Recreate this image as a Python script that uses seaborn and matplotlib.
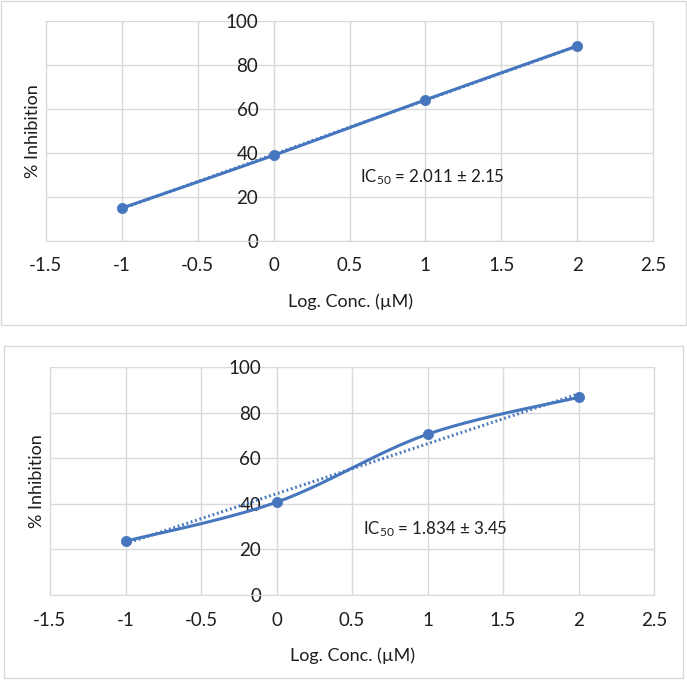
import numpy as np
import pandas as pd
import seaborn as sns
import matplotlib
matplotlib.use("Agg")
import matplotlib.pyplot as plt
from matplotlib.patches import Rectangle

# data
log_conc = [-1, 0, 1, 2]
inhib_top = [14.8, 38.8, 64.0, 88.5]
inhib_bottom = [23.6, 40.7, 70.5, 86.7]
ic50_top = "IC$_{\\mathrm{50}}$ = 2.011 ± 2.15"
ic50_bottom = "IC$_{\\mathrm{50}}$ = 1.834 ± 3.45"
x_ticks = [-1.5, -1, -0.5, 0, 0.5, 1, 1.5, 2, 2.5]
y_ticks = [0, 20, 40, 60, 80, 100]

BLUE = "#4677BE"
GRID = "#D9D9D9"
TXT = "#1e1e1e"

sns.set_style("white")
plt.rcParams["font.family"] = ["Lato", "DejaVu Sans"]
plt.rcParams["mathtext.fontset"] = "custom"
plt.rcParams["mathtext.rm"] = "Lato"
plt.rcParams["mathtext.it"] = "Lato:italic"


def smooth(xs, ys, n=40):
    # excel style smoothed line (catmull-rom through the points)
    p = np.column_stack([xs, ys]).astype(float)
    p = np.vstack([p[0], p, p[-1]])
    out = []
    for i in range(1, len(p) - 2):
        p0, p1, p2, p3 = p[i - 1], p[i], p[i + 1], p[i + 2]
        t = np.linspace(0, 1, n)[:, None]
        seg = 0.5 * ((2 * p1) + (-p0 + p2) * t + (2 * p0 - 5 * p1 + 4 * p2 - p3) * t**2
                     + (-p0 + 3 * p1 - 3 * p2 + p3) * t**3)
        out.append(seg if i == 1 else seg[1:])
    out = np.vstack(out)
    return pd.DataFrame({"x": out[:, 0], "y": out[:, 1]})


def panel(ax, ys, label):
    df = pd.DataFrame({"x": log_conc, "y": ys})
    sns.regplot(data=df, x="x", y="y", ax=ax, scatter=False, ci=None, truncate=True,
                line_kws=dict(color=BLUE, lw=2.2, ls=(0, (0.6, 0.9)), dash_capstyle="butt"))
    sm = smooth(log_conc, ys)
    sns.lineplot(data=sm, x="x", y="y", ax=ax, color=BLUE, lw=2.2, sort=False,
                 estimator=None)
    sns.scatterplot(data=df, x="x", y="y", ax=ax, color=BLUE, s=55, edgecolor=BLUE,
                    linewidth=0.5, zorder=5)

    ax.set_xlim(-1.5, 2.5)
    ax.set_ylim(0, 100)
    ax.set_xticks(x_ticks)
    ax.set_xticklabels([f"{v:g}" for v in x_ticks])
    ax.set_yticks(y_ticks)
    ax.grid(True, color=GRID, lw=1)
    for gl in ax.get_xgridlines() + ax.get_ygridlines():
        gl.set_clip_on(False)
    for s in ["top", "right"]:
        ax.spines[s].set_visible(False)
    ax.spines["left"].set_position(("data", 0))
    ax.spines["left"].set_color(GRID)
    ax.spines["bottom"].set_color(GRID)
    ax.tick_params(axis="both", length=0, labelsize=13.5, colors=TXT)
    ax.tick_params(axis="y", pad=11)
    ax.tick_params(axis="x", pad=12)
    ax.set_xlabel("Log. Conc. (µM)", fontsize=13, color=TXT)
    ax.set_ylabel("% Inhibition", fontsize=13, color=TXT, va="center")
    ax.text(0.57, 29, label, fontsize=12.2, color=TXT, va="center", ha="left")


fig = plt.figure(figsize=(6.87, 6.8), dpi=100)
ax1 = fig.add_axes([46 / 687, 1 - 240.7 / 680, 607 / 687, 220 / 680])
ax2 = fig.add_axes([50 / 687, 1 - 595 / 680, 604 / 687, 228 / 680])

panel(ax1, inhib_top, ic50_top)
panel(ax2, inhib_bottom, ic50_bottom)

ax1.xaxis.set_label_coords(0.502, -0.238)
ax1.yaxis.set_label_coords(-0.021, 0.5)
ax2.xaxis.set_label_coords(0.501, -0.232)
ax2.yaxis.set_label_coords(-0.0215, 0.5)

# chart frames
fig.add_artist(Rectangle((1 / 687, 1 - 325 / 680), 685 / 687, 324 / 680,
                         transform=fig.transFigure, fill=False, ec=GRID, lw=1))
fig.add_artist(Rectangle((4 / 687, 1 - 678 / 680), 679 / 687, 332 / 680,
                         transform=fig.transFigure, fill=False, ec=GRID, lw=1))

fig.savefig("out.png", dpi=100)
